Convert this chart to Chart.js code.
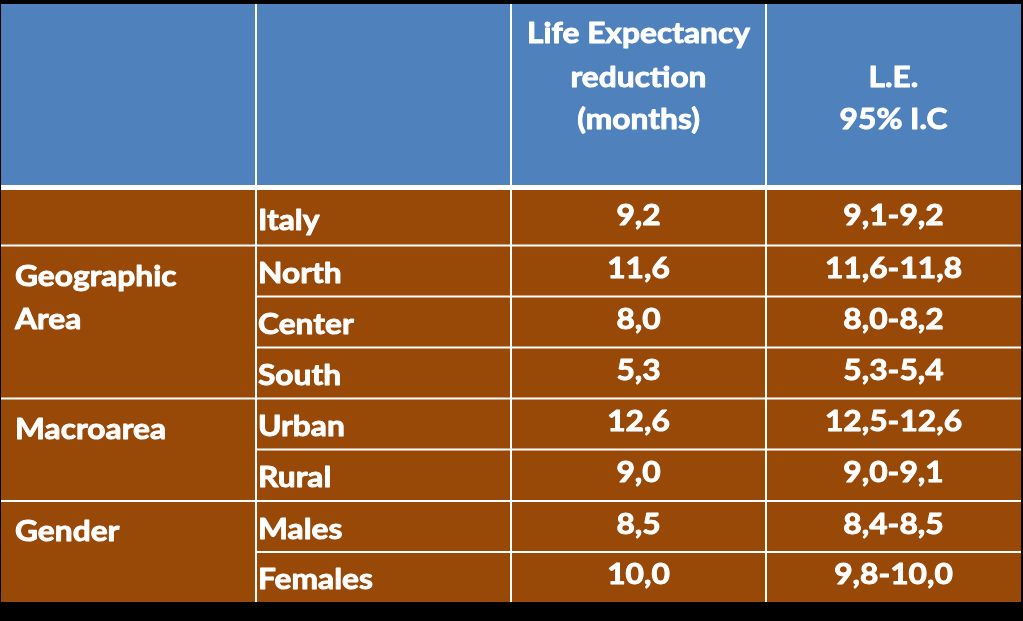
<!DOCTYPE html>
<html>
<head>
<meta charset="utf-8">
<script src="https://cdn.jsdelivr.net/npm/chart.js@4.4.1/dist/chart.umd.min.js"></script>
<style>
  html, body { margin: 0; padding: 0; background: #000; }
  #wrap { width: 1023px; height: 621px; }
</style>
</head>
<body>
<div id="wrap"><canvas id="c" width="1023" height="621"></canvas></div>
<script>
// ---- data ----
const headerLabels = [[], [], ["Life Expectancy", "reduction", "(months)"], ["", "L.E.", "95% I.C"]];
const groups = [[], ["Geographic", "Area"], ["Macroarea"], ["Gender"]];
const groupSpans = [1, 3, 2, 2];
const subgroups = ["Italy", "North", "Center", "South", "Urban", "Rural", "Males", "Females"];
const reduction = [9.2, 11.6, 8.0, 5.3, 12.6, 9.0, 8.5, 10.0];
const ciLow = [9.1, 11.6, 8.0, 5.3, 12.5, 9.0, 8.4, 9.8];
const ciHigh = [9.2, 11.8, 8.2, 5.4, 12.6, 9.1, 8.5, 10.0];

// ---- layout (table units = pixels from table top) ----
const HEADER_BOTTOM = 181;
const rowEdges = [186, 241.5, 292.5, 343.5, 394.5, 445.5, 497, 548, 598];
const BLUE = '#4f81bd';
const BROWN = '#984807';
const FONT = 'Lato, "Open Sans", sans-serif';
const FS = 29;

const fmt = v => v.toFixed(1).replace('.', ',');

function rowCenter(i) { return (rowEdges[i] + rowEdges[i + 1]) / 2; }

const tablePlugin = {
  id: 'tablePlugin',
  beforeDraw(chart) {
    const ctx = chart.ctx;
    ctx.save();
    ctx.fillStyle = '#000';
    ctx.fillRect(0, 0, chart.width, chart.height);
    ctx.restore();
  },
  afterDatasetsDraw(chart) {
    const ctx = chart.ctx;
    const xs = chart.scales.x, ys = chart.scales.y;
    const X = v => xs.getPixelForValue(v);
    const Y = v => ys.getPixelForValue(v);
    const area = chart.chartArea;
    ctx.save();
    // white grid background
    ctx.fillStyle = '#ffffff';
    ctx.fillRect(area.left, area.top, area.right - area.left, area.bottom - area.top);

    function cell(c0, c1, yTop, yBot, color, insetTop, insetBot) {
      let l = X(c0), r = X(c1);
      if (c0 > 0) l += 1;
      if (c1 < 4) r -= 1;
      const t = Y(yTop) + insetTop, b = Y(yBot) - insetBot;
      ctx.fillStyle = color;
      ctx.fillRect(l, t, r - l, b - t);
    }
    // header cells
    for (let c = 0; c < 4; c++) cell(c, c + 1, 0, HEADER_BOTTOM, BLUE, 0, 0);
    // group column cells
    let r = 0;
    for (let g = 0; g < groups.length; g++) {
      const r0 = r, r1 = r + groupSpans[g];
      cell(0, 1, rowEdges[r0], rowEdges[r1], BROWN, r0 === 0 ? 0 : 1, r1 === subgroups.length ? 0 : 1);
      r = r1;
    }
    // other cells
    for (let i = 0; i < subgroups.length; i++) {
      for (let c = 1; c < 4; c++) {
        cell(c, c + 1, rowEdges[i], rowEdges[i + 1], BROWN, i === 0 ? 0 : 1, i === subgroups.length - 1 ? 0 : 1);
      }
    }

    // text
    ctx.fillStyle = '#ffffff';
    ctx.strokeStyle = '#ffffff';
    ctx.lineWidth = 0.9;
    ctx.lineJoin = 'round';
    ctx.font = 'bold ' + FS + 'px ' + FONT;
    ctx.textBaseline = 'alphabetic';
    const sx = 223 / ctx.measureText('Life Expectancy').width;
    function text(str, x, y, align) {
      const w = ctx.measureText(str).width * sx;
      let x0 = x;
      if (align === 'center') x0 = x - w / 2;
      ctx.save();
      ctx.translate(x0, y);
      ctx.scale(sx, 1);
      ctx.textAlign = 'left';
      ctx.fillText(str, 0, 0);
      ctx.strokeText(str, 0, 0);
      ctx.restore();
    }
    // header
    const hTop = Y(0);
    const hOff = [39.3, 82.7, 124.5];
    for (let c = 0; c < headerLabels.length; c++) {
      headerLabels[c].forEach((ln, k) => {
        if (ln) text(ln, X(c + 0.5), hTop + hOff[k], 'center');
      });
    }
    // group labels
    r = 0;
    for (let g = 0; g < groups.length; g++) {
      const top = Y(rowEdges[r]);
      groups[g].forEach((ln, k) => text(ln, X(0) + 14, top + 40 + k * 43, 'left'));
      r += groupSpans[g];
    }
    // subgroup labels and values
    const m1 = chart.getDatasetMeta(0), m2 = chart.getDatasetMeta(1);
    for (let i = 0; i < subgroups.length; i++) {
      const cy = Y(rowCenter(i));
      text(subgroups[i], X(1) + 2, cy + 12, 'left');
      text(fmt(reduction[i]), m1.data[i].x, m1.data[i].y + 7, 'center');
      text(fmt(ciLow[i]) + '-' + fmt(ciHigh[i]), m2.data[i].x, m2.data[i].y + 7, 'center');
    }
    ctx.restore();
  }
};

new Chart(document.getElementById('c'), {
  type: 'scatter',
  data: {
    datasets: [
      { label: 'Life Expectancy reduction (months)', data: reduction.map((v, i) => ({ x: 2.5, y: rowCenter(i), v })), pointRadius: 0 },
      { label: 'L.E. 95% I.C', data: ciLow.map((v, i) => ({ x: 3.5, y: rowCenter(i), v })), pointRadius: 0 }
    ]
  },
  options: {
    responsive: false,
    animation: false,
    events: [],
    layout: { padding: { left: 1, right: 2, top: 4, bottom: 19 } },
    plugins: { legend: { display: false }, tooltip: { enabled: false } },
    scales: {
      x: { type: 'linear', min: 0, max: 4, display: false },
      y: { type: 'linear', min: 0, max: 598, reverse: true, display: false }
    }
  },
  plugins: [tablePlugin]
});
</script>
</body>
</html>
